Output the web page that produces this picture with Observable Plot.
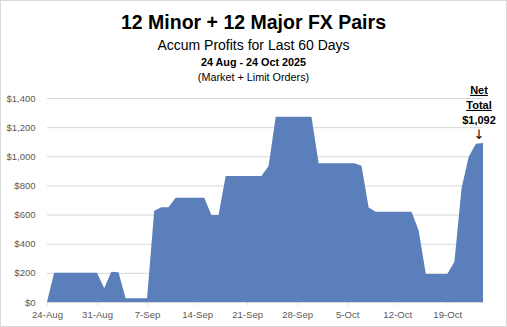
<!DOCTYPE html>
<html>
<head>
<meta charset="utf-8">
<script src="https://cdn.jsdelivr.net/npm/d3@7"></script>
<script src="https://cdn.jsdelivr.net/npm/@observablehq/plot@0.6"></script>
<style>
  body { margin: 0; background: #fff; }
  #wrap { position: relative; width: 507px; height: 327px; overflow: hidden; font-family: "Liberation Sans", Arial, sans-serif; color: #000; }
  #border { position: absolute; left: 0; top: 0; width: 507px; height: 327px; box-sizing: border-box; border: 1px solid #d9d9d9; pointer-events: none; }
  .t { position: absolute; left: 0; width: 507px; text-align: center; white-space: nowrap; }
  #chart { position: absolute; left: 0; top: 85px; }
</style>
</head>
<body>
<div id="wrap">
  <div class="t" style="top:12px;line-height:20px;font-size:19.5px;font-weight:bold;">12 Minor + 12 Major FX Pairs</div>
  <div class="t" style="top:37px;line-height:16px;font-size:14px;">Accum Profits for Last 60 Days</div>
  <div class="t" style="top:55px;line-height:14px;font-size:10.8px;font-weight:bold;">24 Aug - 24 Oct 2025</div>
  <div class="t" style="top:70px;line-height:14px;font-size:10.8px;">(Market + Limit Orders)</div>
  <div id="chart"></div>
  <div id="border"></div>
</div>
<script>
// Data: daily accumulated profit, starting 24 Aug 2025
const startDate = "2025-08-24";
const endDate = "2025-10-24";
const profits = [
  0, 200, 200, 200, 200, 200, 200, 200,      // 24-31 Aug
  95, 208, 205, 25, 25, 25, 25,              // 1-7 Sep
  627, 650, 650, 716, 716, 716, 716,         // 8-14 Sep
  716, 597, 597, 865, 865, 865, 865,         // 15-21 Sep
  865, 865, 933, 1272, 1272, 1272, 1272,     // 22-28 Sep
  1272, 1272, 952, 952, 952, 952, 952,       // 29 Sep - 5 Oct
  952, 935, 648, 620, 620, 620, 620,         // 6-12 Oct
  620, 620, 490, 192, 192, 192, 192,         // 13-19 Oct
  277, 780, 997, 1086, 1092                  // 20-24 Oct
];
const yTicks = [0, 200, 400, 600, 800, 1000, 1200, 1400];
const xTickLabels = ["24-Aug", "31-Aug", "7-Sep", "14-Sep", "21-Sep", "28-Sep", "5-Oct", "12-Oct", "19-Oct"];
const annotationLines = ["Net", "Total", "$1,092", "↓"];
const netTotal = 1092;

const start = new Date(startDate + "T00:00:00Z");
const end = new Date(endDate + "T00:00:00Z");
const data = profits.map((v, i) => ({date: d3.utcDay.offset(start, i), value: v}));
const xTicks = xTickLabels.map((_, i) => d3.utcDay.offset(start, i * 7));
const lastDate = data[data.length - 1].date;
const annot = annotationLines.map((t, i) => ({date: lastDate, value: netTotal, text: t, k: i}));
const annotDy = [-53, -38, -23, -9];

const fmtTick = d => xTickLabels[xTicks.findIndex(t => +t === +d)];

const chart = Plot.plot({
  width: 507,
  height: 242,
  marginLeft: 47,
  marginRight: 24,
  marginTop: 13,
  marginBottom: 25,
  style: {fontFamily: "'Liberation Sans', Arial, sans-serif", background: "transparent", overflow: "visible"},
  x: {type: "utc", domain: [start, end]},
  y: {domain: [0, 1400]},
  marks: [
    Plot.ruleY(yTicks, {stroke: "#d9d9d9", strokeWidth: 1}),
    Plot.areaY(data, {x: "date", y: "value", fill: "#5a7fbb", curve: "linear"}),
    Plot.axisY({ticks: yTicks, tickFormat: d3.format("$,"), tickSize: 0, tickPadding: 12, fontSize: 9.5, color: "#595959", label: null}),
    Plot.axisX({ticks: xTicks, tickFormat: fmtTick, tickSize: 3, tickPadding: 6, fontSize: 9.6, color: "#595959", stroke: "#d9d9d9", label: null}),
    ...annotationLines.map((t, i) => Plot.text([annot[i]], {
      x: "date", y: "value", text: "text", dx: -4.5, dy: annotDy[i],
      fontSize: i === 3 ? 13 : 11, fontWeight: "bold", fill: "#000", lineAnchor: "middle",
      fontFamily: i === 3 ? "'DejaVu Sans', sans-serif" : "'Liberation Sans', Arial, sans-serif"
    }))
  ]
});
d3.select(chart).selectAll("g[aria-label='x-axis tick'] path").attr("stroke", "#d9d9d9");
d3.select(chart).selectAll("text").each(function() {
  const t = this.textContent;
  if (t === "Net" || t === "Total") this.setAttribute("text-decoration", "underline");
  if (t === "↓") this.setAttribute("font-weight", "normal");
});
document.getElementById("chart").appendChild(chart);
</script>
</body>
</html>
